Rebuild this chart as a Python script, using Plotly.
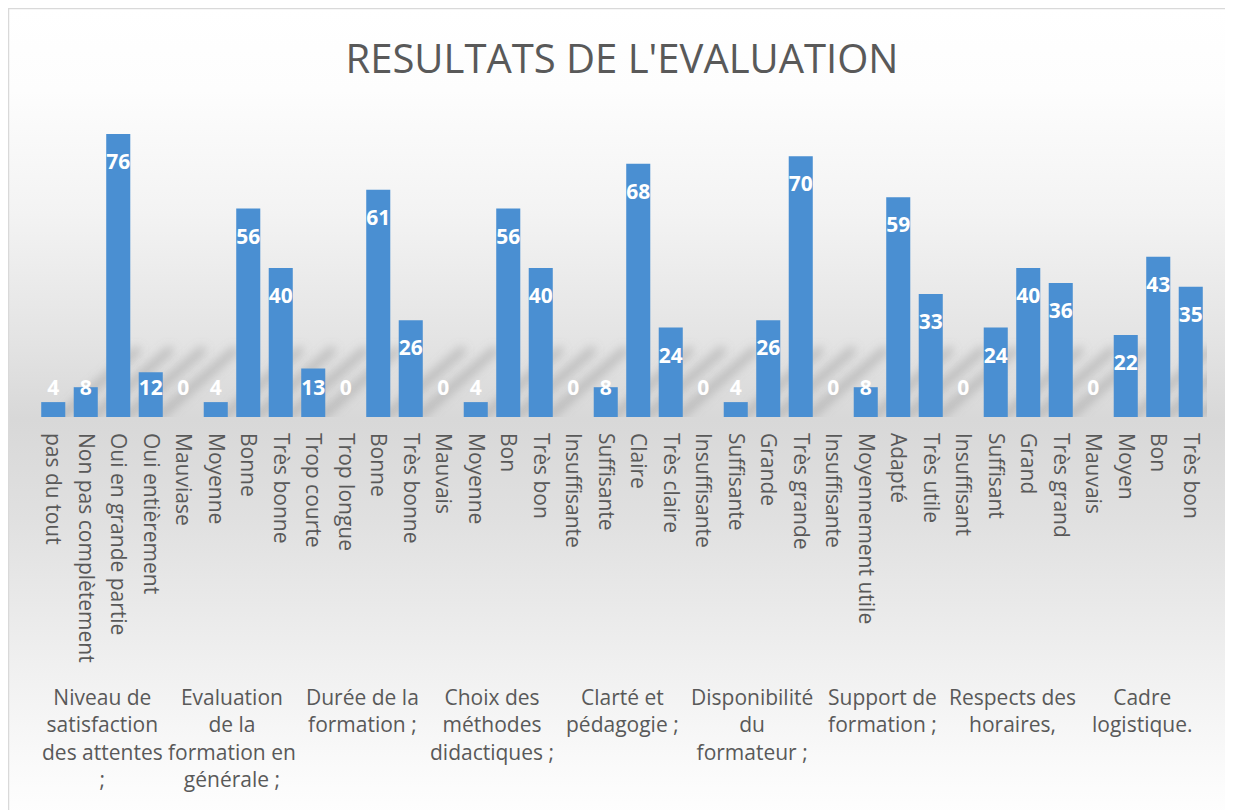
import base64
import plotly.graph_objects as go

# ---------------- data ----------------
groups = [
    "Niveau de<br>satisfaction<br>des attentes<br>;",
    "Evaluation<br>de la<br>formation en<br>générale ;",
    "Durée de la<br>formation ;",
    "Choix des<br>méthodes<br>didactiques ;",
    "Clarté et<br>pédagogie ;",
    "Disponibilité<br>du<br>formateur ;",
    "Support de<br>formation ;",
    "Respects des<br>horaires,",
    "Cadre<br>logistique.",
]
responses = [
    ["pas du tout", "Non pas complètement", "Oui en grande partie", "Oui entièrement"],
    ["Mauviase", "Moyenne", "Bonne", "Très bonne"],
    ["Trop courte", "Trop longue", "Bonne", "Très bonne"],
    ["Mauvais", "Moyenne", "Bon", "Très bon"],
    ["Insuffisante", "Suffisante", "Claire", "Très claire"],
    ["Insuffisante", "Suffisante", "Grande", "Très grande"],
    ["Insuffisante", "Moyennement utile", "Adapté", "Très utile"],
    ["Insuffisant", "Suffisant", "Grand", "Très grand"],
    ["Mauvais", "Moyen", "Bon", "Très bon"],
]
counts = [
    [4, 8, 76, 12],
    [0, 4, 56, 40],
    [13, 0, 61, 26],
    [0, 4, 56, 40],
    [0, 8, 68, 24],
    [0, 4, 26, 70],
    [0, 8, 59, 33],
    [0, 24, 40, 36],
    [0, 22, 43, 35],
]
title_text = "RESULTATS DE L'EVALUATION"

# ---------------- flatten ----------------
x_pos, x_cats, y_vals = [], [], []
group_centers = []
i = 0
for cats, vals in zip(responses, counts):
    start = i
    for c, v in zip(cats, vals):
        x_pos.append(i)
        x_cats.append(c)
        y_vals.append(v)
        i += 1
    group_centers.append((start + i - 1) / 2)

label_y = [max(v - 8.05, 7.25) for v in y_vals]

# figure is drawn inside the page body (8px default margin)
W, H = 1225, 802
ML, MR, MT, MB = 29, 26, 111, 393
PW, PH = W - ML - MR, H - MT - MB

FONT = "Open Sans"
GREY = "#595959"
BAR_GAP = 0.26


def svg_uri(svg):
    return "data:image/svg+xml;base64," + base64.b64encode(svg.encode("utf-8")).decode("ascii")


bg_svg = f"""<svg xmlns='http://www.w3.org/2000/svg' width='{W}' height='{H}' viewBox='0 0 {W} {H}' preserveAspectRatio='none'>
<defs><linearGradient id='g' x1='0' y1='0' x2='0' y2='1'>
<stop offset='0' stop-color='#ffffff'/>
<stop offset='0.10' stop-color='#fdfdfd'/>
<stop offset='0.25' stop-color='#f3f3f3'/>
<stop offset='0.40' stop-color='#e4e4e4'/>
<stop offset='0.50' stop-color='#d8d8d8'/>
<stop offset='0.62' stop-color='#e0e0e0'/>
<stop offset='0.80' stop-color='#f0f0f0'/>
<stop offset='0.95' stop-color='#fcfcfc'/>
<stop offset='1' stop-color='#ffffff'/>
</linearGradient></defs>
<rect x='0' y='0' width='{W + 20}' height='{H + 20}' fill='url(#g)' stroke='#d9d9d9' stroke-width='2.5'/>
</svg>"""

# soft diagonal shadow cast by each bar (decorative, like the Excel effect)
shadow_svg = """<svg xmlns='http://www.w3.org/2000/svg' width='95' height='80' viewBox='0 0 95 80' preserveAspectRatio='none'>
<defs><filter id='b' x='-40%' y='-40%' width='180%' height='180%'><feGaussianBlur stdDeviation='5'/></filter></defs>
<line x1='6' y1='78' x2='80' y2='14' stroke='#8a8a8a' stroke-opacity='0.4' stroke-width='9' stroke-linecap='round' filter='url(#b)'/>
</svg>"""
shadow_src = svg_uri(shadow_svg)

images = [dict(
    source=svg_uri(bg_svg),
    xref="paper", yref="paper",
    x=-ML / PW, y=1 + MT / PH,
    sizex=W / PW, sizey=H / PH,
    xanchor="left", yanchor="top",
    sizing="stretch", layer="below",
)]
for xp, v in zip(x_pos, y_vals):
    if v > 0:
        images.append(dict(
            source=shadow_src,
            xref="x", yref="y",
            x=xp + (1 - BAR_GAP) / 2 - 0.25, y=0,
            sizex=2.9, sizey=21.5,
            xanchor="left", yanchor="bottom",
            sizing="stretch", layer="below",
        ))

fig = go.Figure()
fig.add_trace(go.Bar(
    x=x_pos,
    y=y_vals,
    marker=dict(color="#4a8fd2", line=dict(width=0)),
    hoverinfo="skip",
    showlegend=False,
))
fig.add_trace(go.Scatter(
    x=x_pos,
    y=label_y,
    mode="text",
    text=[str(v) for v in y_vals],
    textposition="middle center",
    textfont=dict(family=FONT, size=21, color="white", weight="bold"),
    hoverinfo="skip",
    showlegend=False,
))

annotations = [
    dict(
        text=g, x=cx, xref="x", y=(409 - 673) / PH, yref="paper",
        xanchor="center", yanchor="top", align="center", showarrow=False,
        font=dict(family=FONT, size=21, color=GREY),
    )
    for g, cx in zip(groups, group_centers)
]

fig.update_layout(
    width=W,
    height=H,
    margin=dict(l=ML, r=MR, t=MT, b=MB, pad=0, autoexpand=False),
    paper_bgcolor="white",
    plot_bgcolor="rgba(0,0,0,0)",
    bargap=BAR_GAP,
    title=dict(
        text=title_text,
        x=614 / W, xref="container", xanchor="center",
        y=1 - 51 / H, yref="container", yanchor="middle",
        font=dict(family=FONT, size=40, color=GREY),
    ),
    font=dict(family=FONT, color=GREY),
    images=images,
    annotations=annotations,
    xaxis=dict(
        range=[-0.5, len(x_pos) - 0.5],
        tickmode="array",
        tickvals=x_pos,
        ticktext=x_cats,
        tickangle=90,
        tickfont=dict(family=FONT, size=21, color=GREY),
        showgrid=False,
        showline=False,
        zeroline=False,
        ticks="",
        ticklabelstandoff=15,
        automargin=False,
    ),
    yaxis=dict(
        range=[0, 80],
        visible=False,
        showgrid=False,
        zeroline=False,
        automargin=False,
    ),
)

fig.write_html("out.html")
